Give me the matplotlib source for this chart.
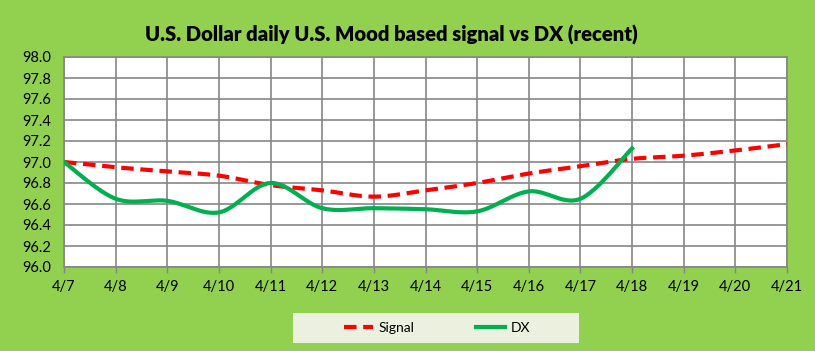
import numpy as np
import matplotlib.pyplot as plt
from matplotlib.lines import Line2D
from matplotlib.patches import Rectangle

dates = ['4/7', '4/8', '4/9', '4/10', '4/11', '4/12', '4/13', '4/14',
         '4/15', '4/16', '4/17', '4/18', '4/19', '4/20', '4/21']
signal = [97.00, 96.95, 96.91, 96.87, 96.78, 96.73, 96.67, 96.73,
          96.80, 96.89, 96.96, 97.03, 97.06, 97.11, 97.17]
dx = [97.00, 96.65, 96.63, 96.52, 96.80, 96.56, 96.56, 96.55,
      96.53, 96.72, 96.65, 97.13]


def smooth(y, n=30):
    # Catmull-Rom curve through the points, like Excel's smoothed line
    y = np.asarray(y, float)
    x = np.arange(len(y), dtype=float)
    p = np.concatenate([[y[0]], y, [y[-1]]])
    px = np.concatenate([[x[0]], x, [x[-1]]])
    xs, ys = [], []
    t = np.linspace(0, 1, n)
    for i in range(1, len(p) - 2):
        for arr, out in ((px, xs), (p, ys)):
            p0, p1, p2, p3 = arr[i - 1], arr[i], arr[i + 1], arr[i + 2]
            m1 = (p2 - p0) / 2
            m2 = (p3 - p1) / 2
            h00 = 2 * t**3 - 3 * t**2 + 1
            h10 = t**3 - 2 * t**2 + t
            h01 = -2 * t**3 + 3 * t**2
            h11 = t**3 - t**2
            out.append(h00 * p1 + h10 * m1 + h01 * p2 + h11 * m2)
    return np.concatenate(xs), np.concatenate(ys)


font = 'Lato'
green_bg = '#92D050'
fig = plt.figure(figsize=(8.15, 3.51), dpi=100, facecolor=green_bg)
ax = fig.add_axes([64 / 815, 1 - 267 / 351, 723 / 815, 210 / 351])
ax.set_facecolor('white')

sx, sy = smooth(signal)
ax.plot(sx, sy, color='#FF0000', lw=3, dashes=(3, 1.6), zorder=3)
gx, gy = smooth(dx)
ax.plot(gx, gy, color='#00B050', lw=3, zorder=4)

ax.set_xlim(0, len(dates) - 1)
ax.set_ylim(96.0, 98.0)
ax.set_xticks(range(len(dates)))
ax.set_xticklabels(dates)
ax.set_yticks(np.arange(96.0, 98.01, 0.2))
ax.set_yticklabels(['%.1f' % v for v in np.arange(96.0, 98.01, 0.2)])
ax.grid(True, color='#868686', lw=1.2)
ax.set_axisbelow(True)
for s in ax.spines.values():
    s.set_color('#868686')
    s.set_linewidth(1.2)
ax.tick_params(axis='y', length=0, pad=9, labelsize=10.5, labelcolor='black')
ax.tick_params(axis='x', length=4, width=1, color='#868686', pad=5,
               labelsize=10.5, labelcolor='black')
for lab in ax.get_xticklabels() + ax.get_yticklabels():
    lab.set_fontfamily(font)

fig.text(391 / 815, 1 - 35 / 351, 'U.S. Dollar daily U.S. Mood based signal vs DX (recent)',
         ha='center', va='center', fontsize=14.6, fontweight='heavy',
         family=font)

# legend box
fig.patches.append(Rectangle((293 / 815, 1 - 343 / 351), 286 / 815, 30 / 351,
                             transform=fig.transFigure, facecolor='#EBF1DE',
                             edgecolor='none', zorder=0))
handles = [Line2D([], [], color='#FF0000', lw=3, dashes=(3, 1.6)),
           Line2D([], [], color='#00B050', lw=3)]
leg = fig.legend(handles, ['Signal', 'DX'], ncol=2, loc='center',
                 bbox_to_anchor=(437 / 815, 1 - 328 / 351), frameon=False,
                 handlelength=2.1, handletextpad=0.4, columnspacing=4.4,
                 prop={'family': font, 'size': 10})

fig.savefig('out.png', dpi=100, facecolor=green_bg)
